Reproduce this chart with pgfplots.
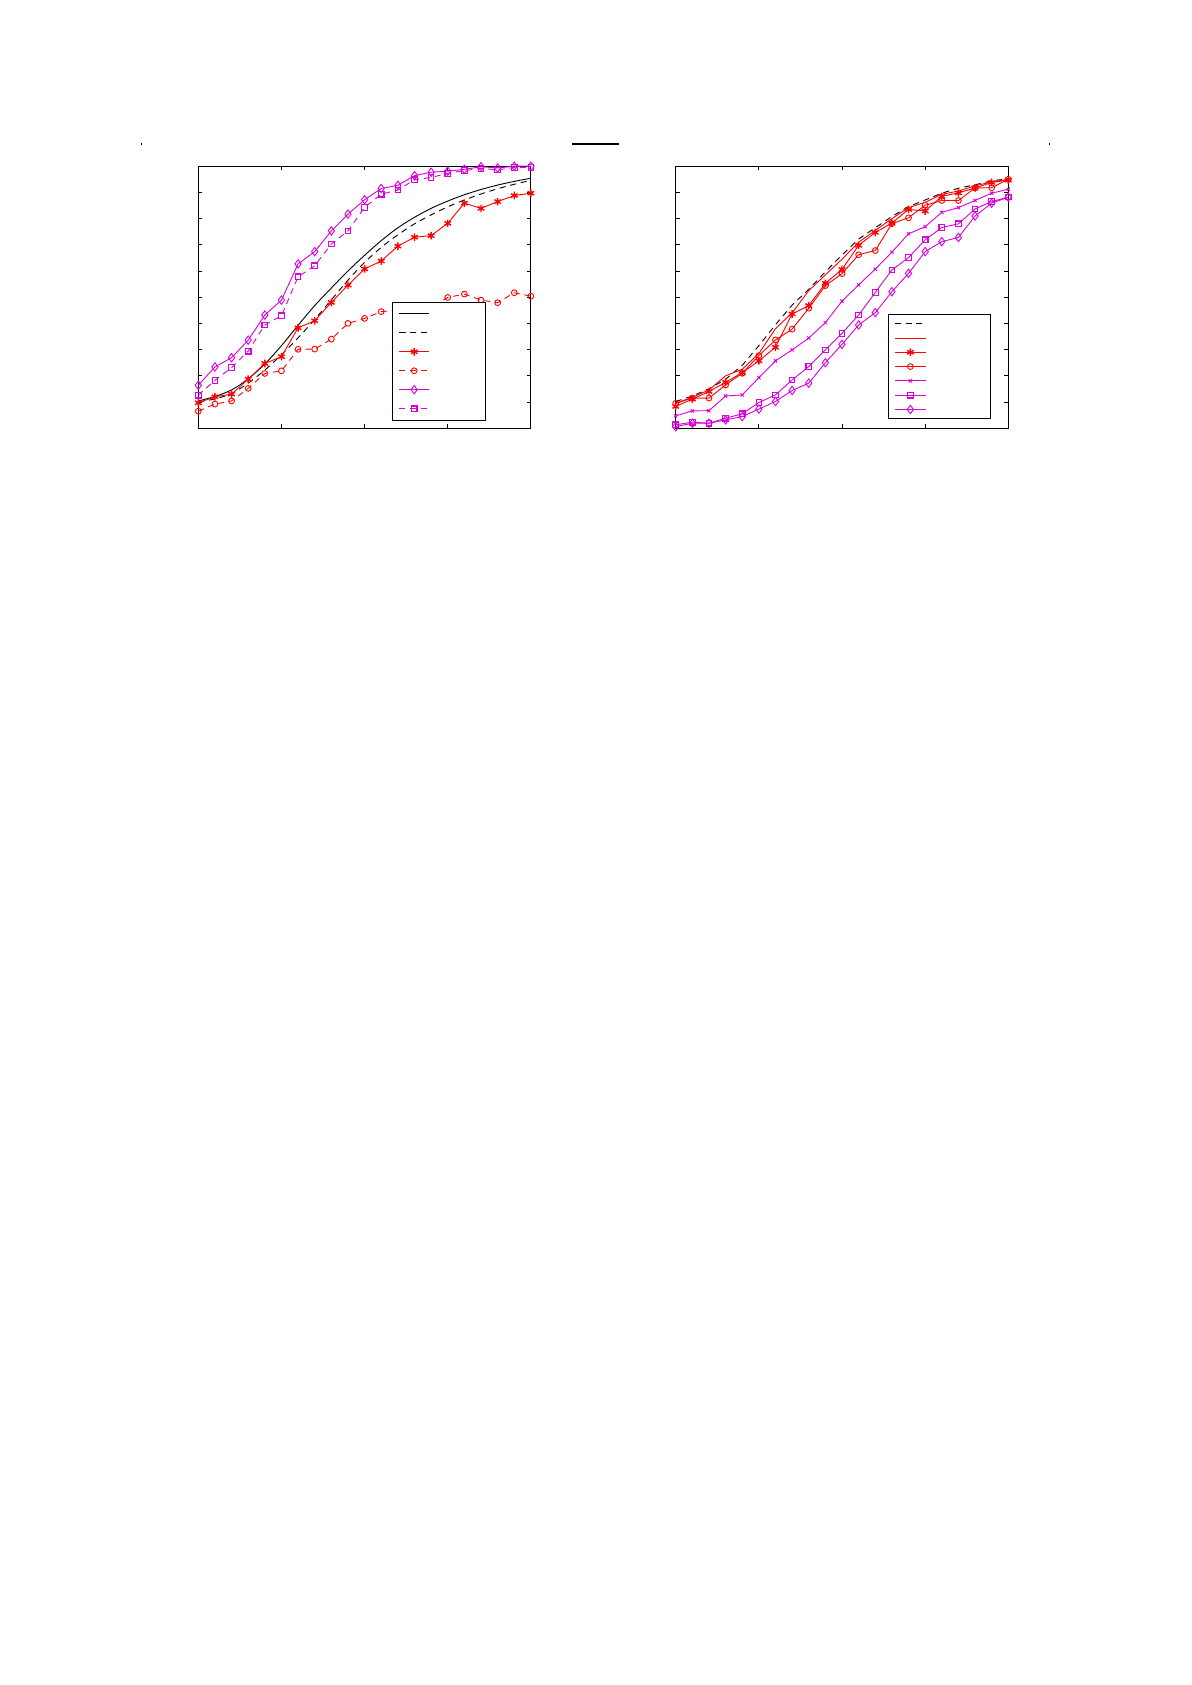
\documentclass[border=0pt]{standalone}
\usepackage{pgfplots}
\usepackage{pgfplotstable}
\pgfplotsset{compat=1.18}

\definecolor{mred}{rgb}{1,0,0}
\definecolor{mmag}{rgb}{0.85,0,0.85}

% left panel: smooth reference, its approximation, four estimated curves
\pgfplotstableread{
i  full   dash   star   circ   diam   sq
0  0.104  0.100  0.097  0.065  0.164  0.126
1  0.121  0.112  0.120  0.092  0.234  0.183
2  0.146  0.132  0.130  0.104  0.269  0.231
3  0.188  0.172  0.187  0.152  0.336  0.294
4  0.245  0.222  0.247  0.209  0.432  0.394
5  0.315  0.280  0.273  0.219  0.489  0.429
6  0.393  0.345  0.383  0.301  0.627  0.578
7  0.468  0.415  0.410  0.302  0.674  0.620
8  0.535  0.490  0.480  0.340  0.753  0.703
9  0.600  0.565  0.546  0.400  0.817  0.753
10 0.660  0.633  0.608  0.419  0.872  0.843
11 0.716  0.690  0.638  0.445  0.915  0.893
12 0.765  0.738  0.695  0.450  0.927  0.909
13 0.805  0.780  0.729  0.455  0.964  0.948
14 0.839  0.814  0.735  0.460  0.977  0.957
15 0.867  0.845  0.782  0.499  0.981  0.973
16 0.891  0.871  0.859  0.512  0.988  0.983
17 0.911  0.894  0.839  0.489  0.998  0.992
18 0.928  0.914  0.865  0.479  0.993  0.986
19 0.942  0.931  0.888  0.517  1.000  0.995
20 0.954  0.946  0.897  0.504  1.000  0.995
}\lefttab

% right panel
\pgfplotstableread{
i  dash   plain  star   circ   cross  sq     diam
0  0.102  0.095  0.083  0.095  0.047  0.013  0.006
1  0.123  0.118  0.111  0.115  0.066  0.023  0.019
2  0.150  0.146  0.140  0.115  0.067  0.019  0.019
3  0.187  0.200  0.175  0.165  0.123  0.038  0.032
4  0.240  0.225  0.212  0.210  0.127  0.055  0.044
5  0.315  0.285  0.257  0.277  0.193  0.098  0.073
6  0.395  0.380  0.309  0.337  0.257  0.127  0.102
7  0.470  0.440  0.436  0.378  0.299  0.184  0.144
8  0.530  0.525  0.468  0.458  0.344  0.235  0.172
9  0.597  0.585  0.553  0.544  0.403  0.299  0.250
10 0.661  0.645  0.606  0.590  0.485  0.362  0.320
11 0.722  0.710  0.698  0.662  0.547  0.432  0.394
12 0.765  0.755  0.747  0.678  0.607  0.518  0.441
13 0.808  0.800  0.783  0.781  0.672  0.604  0.521
14 0.846  0.842  0.835  0.803  0.742  0.651  0.591
15 0.871  0.862  0.829  0.851  0.769  0.719  0.674
16 0.897  0.893  0.885  0.869  0.824  0.766  0.712
17 0.916  0.905  0.898  0.869  0.842  0.780  0.728
18 0.929  0.925  0.917  0.917  0.869  0.837  0.810
19 0.944  0.940  0.938  0.918  0.897  0.865  0.859
20 0.952  0.950  0.947  0.950  0.912  0.882  0.882
}\righttab

\pgfplotsset{
  panel/.style={
    scale only axis, width=166.3pt, height=131pt,
    xmin=0, xmax=20, ymin=0, ymax=1,
    xtick={0,5,...,20}, ytick={0,0.1,...,1},
    xticklabels={}, yticklabels={},
    tick align=inside, major tick length=2pt,
    axis line style={line width=0.5pt},
    every tick/.style={line width=0.5pt, black},
    clip=false,
    every axis plot/.append style={line width=0.45pt},
    legend cell align=left,
  },
  dsh/.style={dash pattern=on 3pt off 2.4pt},
}

\begin{document}
\begin{tikzpicture}
\path[use as bounding box] (0,0) rectangle (595.5pt,-842.5pt);

% stray marks over the panels
\fill (70.6pt,-71.6pt) rectangle +(0.6pt,-0.9pt);
\fill (524.4pt,-71.6pt) rectangle +(0.6pt,-0.9pt);
\draw[line width=0.85pt] (286pt,-71.85pt) -- (309.5pt,-71.85pt);

\begin{axis}[panel,
    at={(99.15pt,-83.1pt)}, anchor=north west,
    legend style={at={(0.583,0.483)}, anchor=north west, draw=black,
      line width=0.5pt, fill=white, inner xsep=3pt, inner ysep=1.05pt,
      row sep=0pt, column sep=0pt,
      nodes={inner sep=0pt, minimum height=9.5pt, text depth=0pt}},
    legend image code/.code={\draw[mark repeat=2,mark phase=2]
      plot coordinates {(0pt,0pt)(7.5pt,0pt)(15pt,0pt)};},
  ]
  \addplot[black, smooth, no marks] table[x=i, y=full] {\lefttab};
  \addlegendentry{\hspace*{25pt}}
  \addplot[black, smooth, dsh, no marks] table[x=i, y=dash] {\lefttab};
  \addlegendentry{\hspace*{25pt}}
  \addplot[mred, mark=asterisk, mark size=1.9pt, mark options={solid, line width=0.7pt}]
    table[x=i, y=star] {\lefttab};
  \addlegendentry{\hspace*{25pt}}
  \addplot[mred, dsh, mark=o, mark size=1.45pt, mark options={solid}]
    table[x=i, y=circ] {\lefttab};
  \addlegendentry{\hspace*{25pt}}
  \addplot[mmag, mark=diamond, mark size=2.1pt, mark options={solid}]
    table[x=i, y=diam] {\lefttab};
  \addlegendentry{\hspace*{25pt}}
  \addplot[mmag, dsh, mark=square, mark size=1.4pt, mark options={solid, line width=0.55pt}]
    table[x=i, y=sq] {\lefttab};
  \addlegendentry{\hspace*{25pt}}
\end{axis}

\begin{axis}[panel,
    at={(337.85pt,-83.1pt)}, anchor=north west,
    legend style={at={(0.639,0.435)}, anchor=north west, draw=black,
      line width=0.5pt, fill=white, inner xsep=2.85pt, inner ysep=0.9pt,
      row sep=0pt, column sep=0pt,
      nodes={inner sep=0pt, minimum height=7.15pt, text depth=0pt}},
    legend image code/.code={\draw[mark repeat=2,mark phase=2]
      plot coordinates {(0pt,0pt)(7.75pt,0pt)(15.5pt,0pt)};},
  ]
  \addplot[black, dsh, no marks] table[x=i, y=dash] {\righttab};
  \addlegendentry{\hspace*{29.3pt}}
  \addplot[mred, no marks] table[x=i, y=plain] {\righttab};
  \addlegendentry{\hspace*{29.3pt}}
  \addplot[mred, mark=asterisk, mark size=1.9pt, mark options={line width=0.7pt}]
    table[x=i, y=star] {\righttab};
  \addlegendentry{\hspace*{29.3pt}}
  \addplot[mred, mark=o, mark size=1.45pt] table[x=i, y=circ] {\righttab};
  \addlegendentry{\hspace*{29.3pt}}
  \addplot[mmag, mark=x, mark size=1.15pt] table[x=i, y=cross] {\righttab};
  \addlegendentry{\hspace*{29.3pt}}
  \addplot[mmag, mark=square, mark size=1.4pt, mark options={line width=0.55pt}]
    table[x=i, y=sq] {\righttab};
  \addlegendentry{\hspace*{29.3pt}}
  \addplot[mmag, mark=diamond, mark size=2.1pt] table[x=i, y=diam] {\righttab};
  \addlegendentry{\hspace*{29.3pt}}
\end{axis}
\end{tikzpicture}
\end{document}
